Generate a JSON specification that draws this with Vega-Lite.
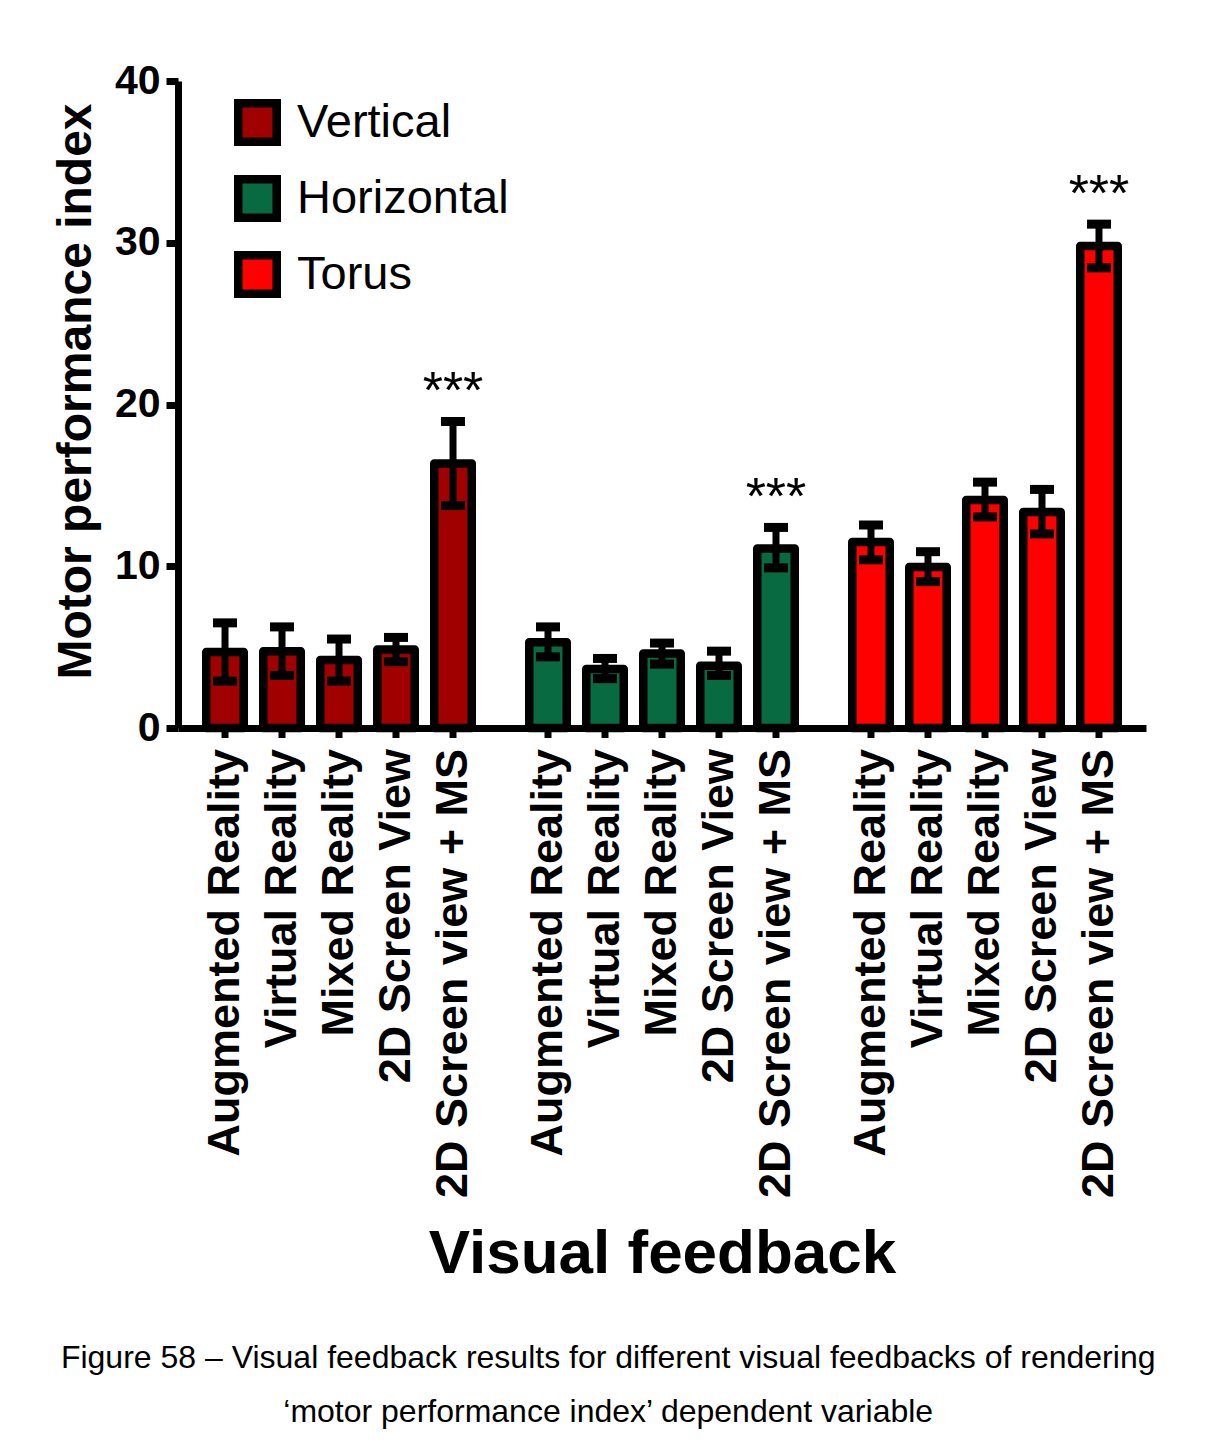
{
  "$schema": "https://vega.github.io/schema/vega-lite/v6.json",
  "width": 968,
  "height": 647,
  "padding": {"left": 52, "top": 60, "right": 10, "bottom": 10},
  "background": "white",
  "config": {"font": "Liberation Sans", "view": {"stroke": null}},
  "title": {
    "text": ["Figure 58 – Visual feedback results for different visual feedbacks of rendering", "‘motor performance index’ dependent variable"],
    "orient": "bottom", "anchor": "middle", "frame": "bounds",
    "fontSize": 32, "fontWeight": "normal", "lineHeight": 54, "offset": 59, "dx": 9,
    "font": "Liberation Sans", "color": "black"
  },
  "data": {"values": [
    {"group": "Vertical", "cond": "Augmented Reality", "mean": 4.7, "lo": 2.9, "hi": 6.5, "sig": ""},
    {"group": "Vertical", "cond": "Virtual Reality", "mean": 4.75, "lo": 3.25, "hi": 6.25, "sig": ""},
    {"group": "Vertical", "cond": "Mixed Reality", "mean": 4.2, "lo": 2.9, "hi": 5.5, "sig": ""},
    {"group": "Vertical", "cond": "2D Screen View", "mean": 4.85, "lo": 4.1, "hi": 5.6, "sig": ""},
    {"group": "Vertical", "cond": "2D Screen view + MS", "mean": 16.35, "lo": 13.75, "hi": 18.95, "sig": "***"},
    {"group": "Horizontal", "cond": "Augmented Reality", "mean": 5.3, "lo": 4.4, "hi": 6.25, "sig": ""},
    {"group": "Horizontal", "cond": "Virtual Reality", "mean": 3.65, "lo": 3.05, "hi": 4.3, "sig": ""},
    {"group": "Horizontal", "cond": "Mixed Reality", "mean": 4.6, "lo": 3.95, "hi": 5.25, "sig": ""},
    {"group": "Horizontal", "cond": "2D Screen View", "mean": 3.85, "lo": 3.25, "hi": 4.75, "sig": ""},
    {"group": "Horizontal", "cond": "2D Screen view + MS", "mean": 11.1, "lo": 9.9, "hi": 12.4, "sig": "***"},
    {"group": "Torus", "cond": "Augmented Reality", "mean": 11.5, "lo": 10.4, "hi": 12.55, "sig": ""},
    {"group": "Torus", "cond": "Virtual Reality", "mean": 9.95, "lo": 9.05, "hi": 10.9, "sig": ""},
    {"group": "Torus", "cond": "Mixed Reality", "mean": 14.1, "lo": 13.05, "hi": 15.2, "sig": ""},
    {"group": "Torus", "cond": "2D Screen View", "mean": 13.35, "lo": 12.0, "hi": 14.75, "sig": ""},
    {"group": "Torus", "cond": "2D Screen view + MS", "mean": 29.8, "lo": 28.45, "hi": 31.15, "sig": "***"}
  ]},
  "encoding": {
    "x": {
      "field": "group", "type": "nominal",
      "sort": ["Vertical", "Horizontal", "Torus"],
      "scale": {"paddingInner": 0.178, "paddingOuter": 0.0875},
      "axis": {
        "title": "Visual feedback", "labels": false, "ticks": false,
        "domainColor": "black", "domainWidth": 7,
        "titleFontSize": 62, "titleFontWeight": "bold", "titleColor": "black",
        "titlePadding": 495
      }
    },
    "xOffset": {
      "field": "cond", "type": "nominal",
      "sort": ["Augmented Reality", "Virtual Reality", "Mixed Reality", "2D Screen View", "2D Screen view + MS"],
      "scale": {"paddingInner": 0.342, "paddingOuter": 0}
    }
  },
  "layer": [
    {
      "mark": {"type": "rule", "strokeWidth": 7, "color": "black", "y2Offset": 10},
      "encoding": {
        "y": {"datum": 0, "type": "quantitative"},
        "y2": {"datum": 0}
      }
    },
    {
      "mark": {"type": "bar", "stroke": "black", "strokeWidth": 8.5, "strokeJoin": "round"},
      "encoding": {
        "y": {
          "field": "mean", "type": "quantitative",
          "scale": {"domain": [0, 40], "nice": false},
          "axis": {
            "title": "Motor performance index", "values": [0, 10, 20, 30, 40],
            "grid": false, "domainColor": "black", "domainWidth": 7,
            "tickColor": "black", "tickWidth": 7, "tickSize": 12,
            "labelFontSize": 41, "labelFontWeight": "bold", "labelColor": "black", "labelPadding": 6,
            "titleFontSize": 48, "titleFontWeight": "bold", "titleColor": "black", "titlePadding": 14,
            "titleY": 310
          }
        },
        "color": {
          "field": "group", "type": "nominal",
          "scale": {"domain": ["Vertical", "Horizontal", "Torus"], "range": ["#A00000", "#076A41", "#FF0000"]},
          "legend": {
            "title": null, "orient": "none", "legendX": 56, "legendY": 18,
            "symbolType": "square", "symbolSize": 1480, "symbolStrokeColor": "black", "symbolStrokeWidth": 8.5,
            "symbolOpacity": 1, "labelFontSize": 47, "labelColor": "black", "labelOffset": 16,
            "labelLimit": 0, "rowPadding": 3, "padding": 0
          }
        }
      }
    },
    {
      "mark": {"type": "rule", "strokeWidth": 7, "color": "black"},
      "encoding": {
        "y": {"field": "lo", "type": "quantitative"},
        "y2": {"field": "hi"}
      }
    },
    {
      "mark": {"type": "tick", "thickness": 9, "size": 24, "color": "black", "opacity": 1, "orient": "horizontal"},
      "encoding": {"y": {"field": "hi", "type": "quantitative"}}
    },
    {
      "mark": {"type": "tick", "thickness": 9, "size": 24, "color": "black", "opacity": 1, "orient": "horizontal"},
      "encoding": {"y": {"field": "lo", "type": "quantitative"}}
    },
    {
      "mark": {"type": "text", "fontSize": 52, "baseline": "alphabetic", "align": "center", "dy": -13, "color": "black"},
      "encoding": {
        "y": {"field": "hi", "type": "quantitative"},
        "text": {"field": "sig"}
      }
    },
    {
      "mark": {"type": "text", "angle": 270, "align": "right", "baseline": "middle", "fontSize": 45, "fontWeight": "bold", "dx": -21, "color": "black"},
      "encoding": {
        "y": {"datum": 0, "type": "quantitative"},
        "text": {"field": "cond"}
      }
    }
  ]
}
